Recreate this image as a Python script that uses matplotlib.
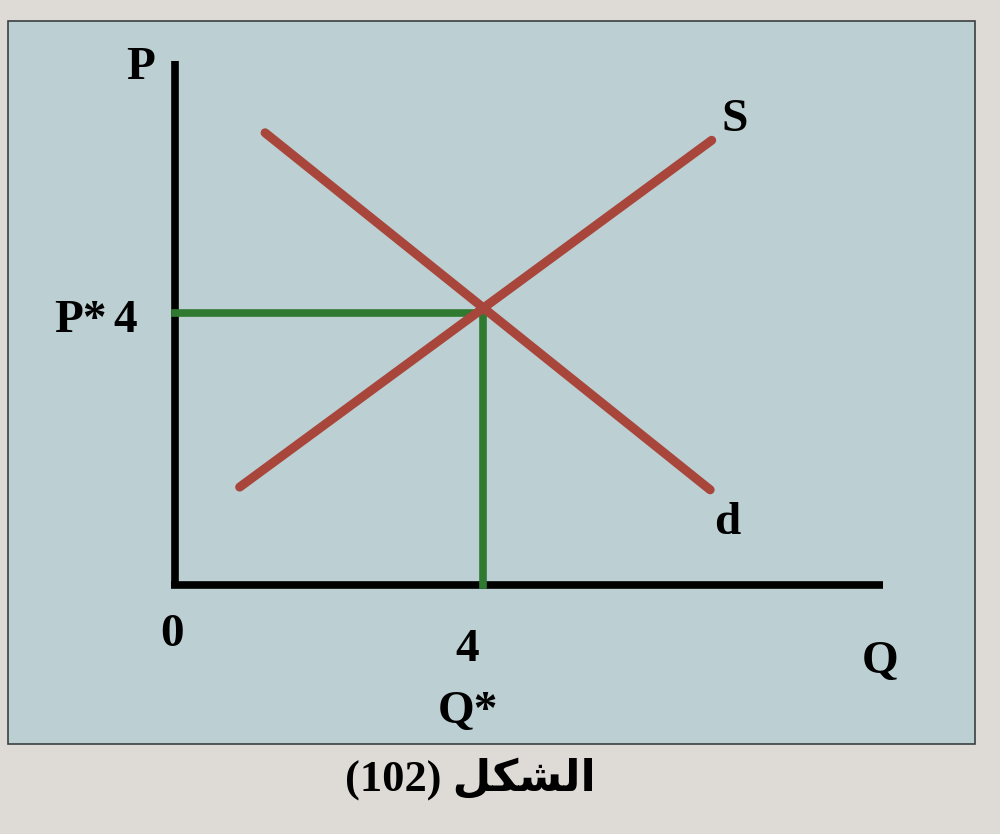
import matplotlib.pyplot as plt
from matplotlib.patches import Rectangle

# Values (Q, P units)
supply_q = [0.84, 6.97]
supply_p = [1.44, 6.54]
demand_q = [1.17, 6.95]
demand_p = [6.65, 1.40]
eq_q = 4
eq_p = 4
q_max = 9.2
p_max = 7.7

red = '#a8463c'
green = '#2f7a30'
serif = ['Liberation Serif', 'DejaVu Serif']

fig = plt.figure(figsize=(10, 8.34), dpi=100)
fig.patch.set_facecolor('#dedbd6')

ax = fig.add_axes([0, 0, 1, 1])
ax.set_xlim(-175 / 77, 825 / 77)
ax.set_ylim(-249 / 68, 585 / 68)
ax.axis('off')

# light blue panel behind the drawing
ax.add_patch(Rectangle((0.008, 0.108), 0.967, 0.867, transform=fig.transFigure,
                       facecolor='#bccfd2', edgecolor='#3a3f40', linewidth=1.2, zorder=0))

# axes
ax.plot([0, 0], [0, p_max], color='black', lw=5.5, solid_capstyle='butt')
ax.plot([-0.05, q_max], [0, 0], color='black', lw=5.5, solid_capstyle='butt')

# equilibrium guides
ax.plot([0, eq_q], [eq_p, eq_p], color=green, lw=5.5)
ax.plot([eq_q, eq_q], [eq_p, 0], color=green, lw=5.5)

# supply and demand
ax.plot(supply_q, supply_p, color=red, lw=6.5, solid_capstyle='round')
ax.plot(demand_q, demand_p, color=red, lw=6.5, solid_capstyle='round')

kw = dict(family=serif, fontweight='bold', fontsize=34, ha='center', va='center')
ax.text(-0.45, 7.6, 'P', **kw)
ax.text(7.27, 6.84, 'S', **kw)
ax.text(-1.23, 3.88, 'P*', **kw)
ax.text(-0.65, 3.88, str(eq_p), **kw)
ax.text(7.17, 0.91, 'd', **kw)
ax.text(-0.04, -0.74, '0', **kw)
ax.text(3.8, -0.96, str(eq_q), **kw)
ax.text(9.16, -1.13, 'Q', **kw)
ax.text(3.8, -1.87, 'Q*', **kw)

# caption "الشكل (102)" in shaped presentation forms, visual order
caption = '(102) ' + '\uFEDE\uFEDC\uFEB8\uFEDF\uFE8D'
ax.text(3.83, -2.85, caption, family=['Liberation Serif', 'DejaVu Sans'],
        fontweight='bold', fontsize=32, ha='center', va='center')

fig.savefig('out.png', dpi=100, facecolor=fig.get_facecolor())
